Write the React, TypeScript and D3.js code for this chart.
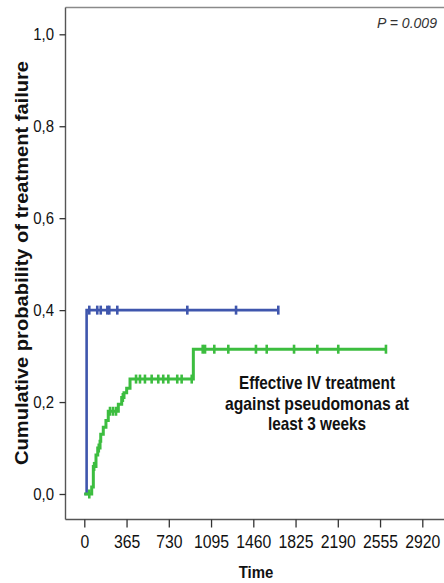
import React, { useRef, useEffect } from "react";
import * as d3 from "d3";

// axis ticks
const xTicks = [0, 365, 730, 1095, 1460, 1825, 2190, 2555, 2920];
const yTicks = [0, 0.2, 0.4, 0.6, 0.8, 1.0];

// blue group: step times (days) and cumulative failure
const blueTimes = [0, 20];
const blueCum = [0, 0.4];
const blueEnd = 1676;
const blueCensored = [43, 112, 142, 199, 216, 285, 890, 1311, 1676];

// green group: effective IV treatment >= 3 weeks
const greenTimes = [0, 64, 78, 101, 116, 136, 142, 164, 187, 207, 294, 323, 343, 366, 395, 942];
const greenCum = [0, 0.015, 0.06, 0.085, 0.1, 0.115, 0.13, 0.145, 0.16, 0.18, 0.195, 0.21, 0.22, 0.23, 0.25, 0.315];
const greenEnd = 2606;
const greenCensored = [
  43, 85, 125, 222, 248, 274, 333, 447, 481, 524, 582, 639, 682, 726, 803, 841, 928,
  1023, 1043, 1123, 1244, 1483, 1576, 1812, 2013, 2194, 2606,
];

const noteLines = ["Effective IV treatment", "against pseudomonas at", "least 3 weeks"];
const pText = "P = 0.009";
const yTitle = "Cumulative probability of treatment failure";
const xTitle = "Time";

const W = 444;
const H = 583;
const FONT = "'Liberation Sans', Arial, sans-serif";

export default function App() {
  const svgRef = useRef<SVGSVGElement>(null);

  useEffect(() => {
    const svg = d3.select(svgRef.current);
    svg.selectAll("*").remove();

    const left = 65.5;
    const top = 7.5;
    const bottom = 519.5;

    const x = d3.scaleLinear().domain([0, 2920]).range([84.3, 422.3]);
    const y = d3.scaleLinear().domain([0, 1]).range([494, 34.3]);

    // squeeze text a little, like the original export
    const narrow = (sel: d3.Selection<any, any, any, any>, k: number) =>
      sel.each(function () {
        const el = this as SVGTextElement;
        el.setAttribute("textLength", String(el.getComputedTextLength() * k));
        el.setAttribute("lengthAdjust", "spacingAndGlyphs");
      });

    // frame
    svg.append("line").attr("x1", left).attr("x2", W).attr("y1", top).attr("y2", top)
      .attr("stroke", "#8a8a8a").attr("stroke-width", 1.6);
    svg.append("line").attr("x1", left).attr("x2", left).attr("y1", top).attr("y2", bottom)
      .attr("stroke", "#555").attr("stroke-width", 1.4);
    svg.append("line").attr("x1", left).attr("x2", W).attr("y1", bottom).attr("y2", bottom)
      .attr("stroke", "#555").attr("stroke-width", 1.6);

    // x axis
    const gx = svg.append("g")
      .attr("transform", `translate(0,${bottom})`)
      .call(d3.axisBottom(x).tickValues(xTicks).tickSize(8).tickPadding(8).tickFormat(d3.format("d")));
    gx.select(".domain").remove();
    gx.selectAll("line").attr("stroke", "#333").attr("stroke-width", 1.3);
    const xt = gx.selectAll("text").attr("font-size", 17.5).attr("font-family", FONT).attr("fill", "#111");
    narrow(xt, 0.9);

    // y axis
    const gy = svg.append("g")
      .attr("transform", `translate(${left},0)`)
      .call(
        d3.axisLeft(y).tickValues(yTicks).tickSize(6).tickPadding(5.5)
          .tickFormat((d) => (d as number).toFixed(1).replace(".", ","))
      );
    gy.select(".domain").remove();
    gy.selectAll("line").attr("stroke", "#333").attr("stroke-width", 1.3);
    const yt = gy.selectAll("text").attr("font-size", 17).attr("font-family", FONT).attr("fill", "#111");
    narrow(yt, 0.88);

    const line = d3.line<[number, number]>()
      .x((d) => x(d[0]))
      .y((d) => y(d[1]))
      .curve(d3.curveStepAfter);

    const drawGroup = (times: number[], cum: number[], end: number, censored: number[], color: string, w: number) => {
      const pts: [number, number][] = times.map((t, i) => [t, cum[i]]);
      pts.push([end, cum[cum.length - 1]]);
      svg.append("path").attr("d", line(pts)).attr("fill", "none")
        .attr("stroke", color).attr("stroke-width", w);
      svg.append("g").selectAll("line").data(censored).enter().append("line")
        .attr("x1", (t) => x(t)).attr("x2", (t) => x(t))
        .attr("y1", (t) => y(cum[d3.bisectRight(times, t) - 1]) - 4.5)
        .attr("y2", (t) => y(cum[d3.bisectRight(times, t) - 1]) + 4.5)
        .attr("stroke", color).attr("stroke-width", 2.6);
    };

    drawGroup(blueTimes, blueCum, blueEnd, blueCensored, "#3f56ad", 2.6);
    drawGroup(greenTimes, greenCum, greenEnd, greenCensored, "#3cbd3f", 3);

    // p value
    svg.append("text").attr("x", 437).attr("y", 28).attr("text-anchor", "end")
      .attr("font-family", FONT).attr("font-style", "italic").attr("font-size", 14.5)
      .attr("fill", "#333").attr("textLength", 60).attr("lengthAdjust", "spacingAndGlyphs")
      .text(pText);

    // annotation
    const noteWidths = [156, 184, 98];
    svg.append("g").selectAll("text").data(noteLines).enter().append("text")
      .attr("x", 317).attr("y", (d, i) => 389 + i * 20.5)
      .attr("text-anchor", "middle").attr("font-family", FONT).attr("font-weight", "bold")
      .attr("font-size", 18.5).attr("fill", "#111")
      .attr("textLength", (d, i) => noteWidths[i]).attr("lengthAdjust", "spacingAndGlyphs")
      .text((d) => d);

    // axis titles
    svg.append("text").attr("transform", "translate(28,263) rotate(-90)")
      .attr("text-anchor", "middle").attr("font-family", FONT).attr("font-weight", "bold")
      .attr("font-size", 18.5).attr("fill", "#111")
      .attr("textLength", 404).attr("lengthAdjust", "spacingAndGlyphs")
      .text(yTitle);
    const tt = svg.append("text").attr("x", 256).attr("y", 578)
      .attr("text-anchor", "middle").attr("font-family", FONT).attr("font-weight", "bold")
      .attr("font-size", 17).attr("fill", "#111")
      .text(xTitle);
    narrow(tt, 0.88);
  }, []);

  return (
    <svg
      ref={svgRef}
      width={W}
      height={H}
      style={{ position: "absolute", left: 0, top: 0, background: "#fff" }}
    />
  );
}
